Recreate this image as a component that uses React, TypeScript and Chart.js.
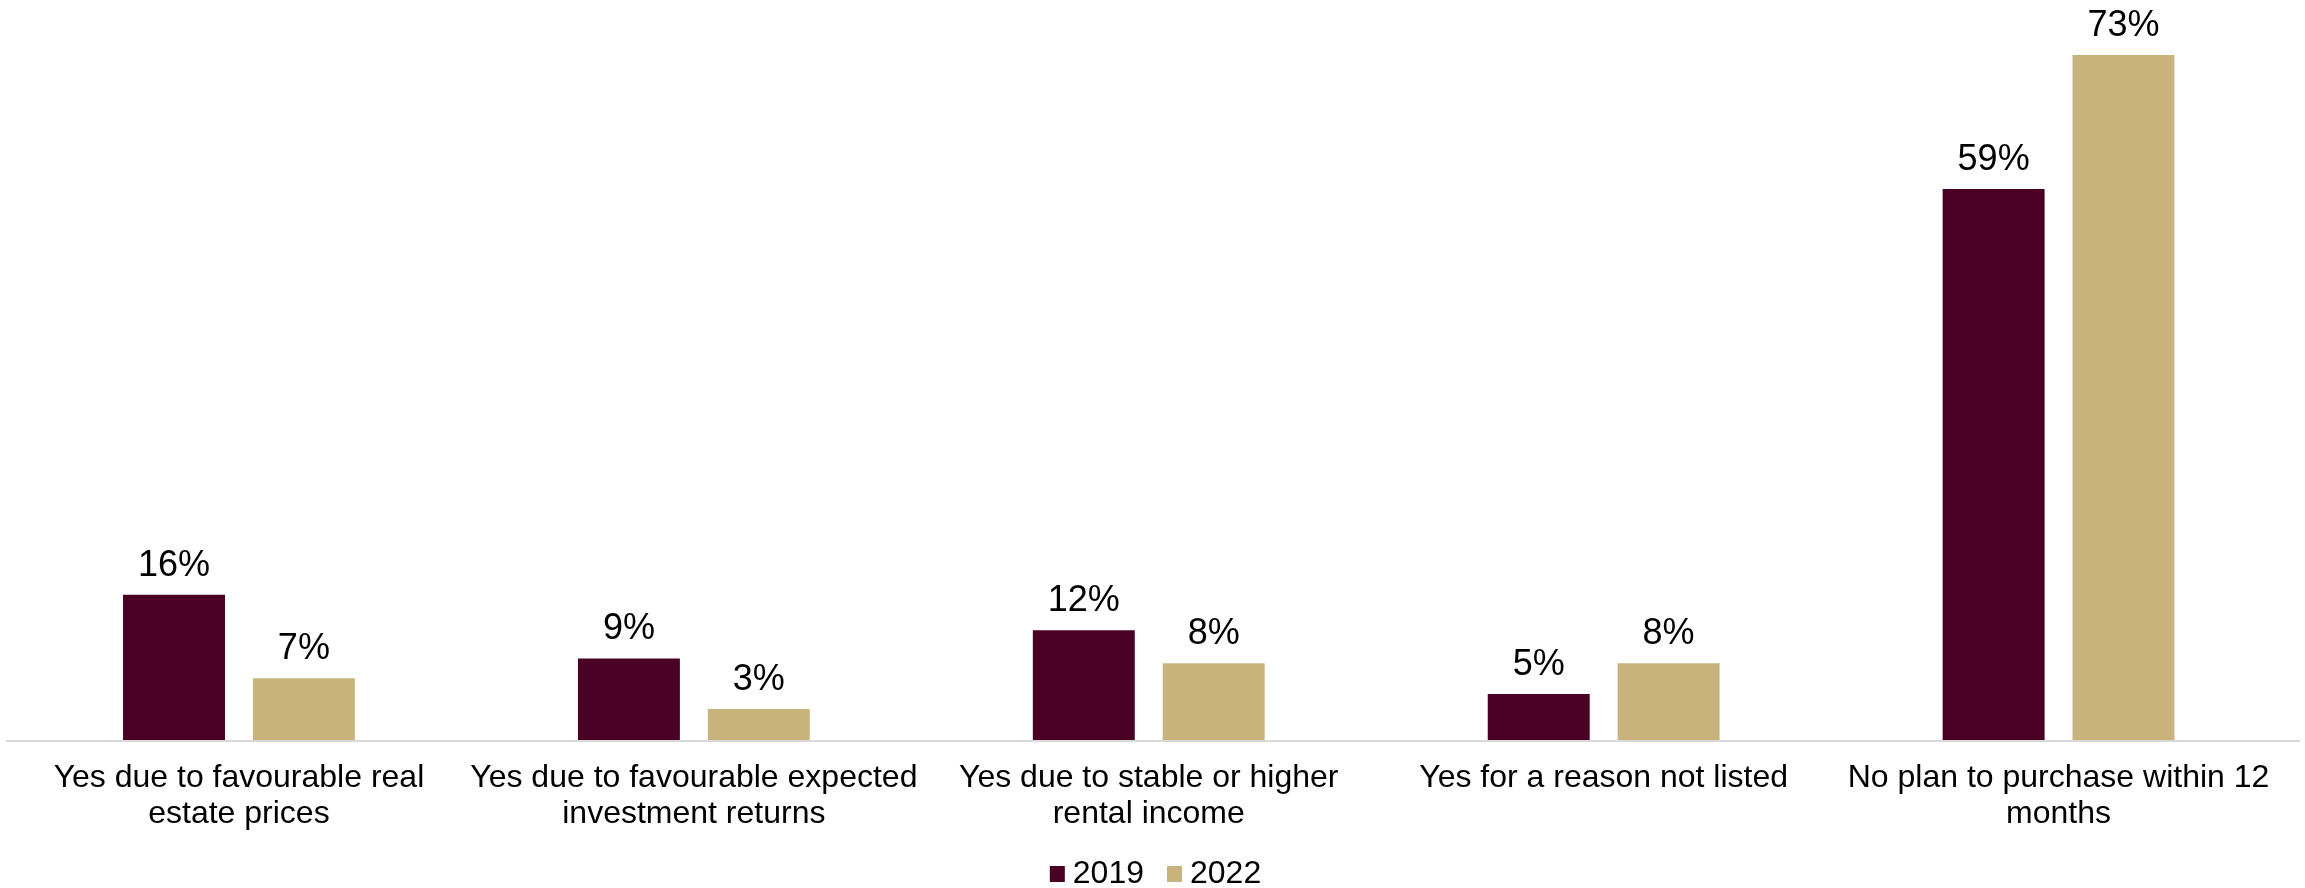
import React, { useEffect, useRef } from "react";
import { Chart, registerables } from "chart.js";

Chart.register(...registerables);

const categories: (string | string[])[] = [
  ["Yes due to favourable real", "estate prices"],
  ["Yes due to favourable expected", "investment returns"],
  ["Yes due to stable or higher", "rental income"],
  "Yes for a reason not listed",
  ["No plan to purchase within 12", "months"],
];
const seriesLabels = ["2019", "2022"];
const values2019 = [15.5, 8.7, 11.7, 4.9, 58.8];
const values2022 = [6.6, 3.3, 8.2, 8.2, 73.1];
const seriesColors = ["#490024", "#c9b37c"];

const FONT = "'Liberation Sans', Arial, sans-serif";

const decorPlugin = {
  id: "decor",
  beforeDatasetsDraw(chart: any) {
    const { ctx, chartArea } = chart;
    ctx.save();
    ctx.strokeStyle = "#d9d9d9";
    ctx.lineWidth = 2;
    ctx.beginPath();
    ctx.moveTo(6, chartArea.bottom + 1);
    ctx.lineTo(chart.width - 5, chartArea.bottom + 1);
    ctx.stroke();
    ctx.restore();
  },
  afterDatasetsDraw(chart: any) {
    const { ctx } = chart;
    ctx.save();
    // data labels
    ctx.fillStyle = "#000";
    ctx.font = `36px ${FONT}`;
    ctx.textAlign = "center";
    ctx.textBaseline = "alphabetic";
    chart.data.datasets.forEach((ds: any, di: number) => {
      const meta = chart.getDatasetMeta(di);
      meta.data.forEach((el: any, i: number) => {
        const v = ds.data[i] as number;
        ctx.fillText(`${Math.round(v)}%`, el.x, el.y - 19);
      });
    });
    // legend
    ctx.font = `32px ${FONT}`;
    ctx.textAlign = "left";
    ctx.textBaseline = "middle";
    const boxW = 15;
    const boxH = 16;
    const gapBoxText = 8;
    const gapItems = 23;
    const items = chart.data.datasets.map((ds: any) => ({
      label: ds.label as string,
      color: ds.backgroundColor as string,
      w: ctx.measureText(ds.label).width,
    }));
    const total =
      items.reduce((s: number, it: any) => s + boxW + gapBoxText + it.w, 0) +
      gapItems * (items.length - 1);
    let x = chart.width / 2 + 3 - total / 2;
    const cy = 874;
    items.forEach((it: any) => {
      ctx.fillStyle = it.color;
      ctx.fillRect(x, cy - boxH / 2, boxW, boxH);
      ctx.fillStyle = "#000";
      ctx.fillText(it.label, x + boxW + gapBoxText, cy);
      x += boxW + gapBoxText + it.w + gapItems;
    });
    ctx.restore();
  },
};

export default function App() {
  const canvasRef = useRef<HTMLCanvasElement | null>(null);

  useEffect(() => {
    document.body.style.margin = "0";
    const canvas = canvasRef.current;
    if (!canvas) return;
    const chart = new Chart(canvas, {
      type: "bar",
      data: {
        labels: categories as any,
        datasets: [
          {
            label: seriesLabels[0],
            data: values2019,
            backgroundColor: seriesColors[0],
            categoryPercentage: 0.571,
            barPercentage: 0.785,
          },
          {
            label: seriesLabels[1],
            data: values2022,
            backgroundColor: seriesColors[1],
            categoryPercentage: 0.571,
            barPercentage: 0.785,
          },
        ],
      },
      options: {
        responsive: false,
        animation: false,
        devicePixelRatio: 1,
        layout: { padding: { top: 9, bottom: 36, left: 11.5, right: 19 } },
        plugins: {
          legend: { display: false },
          tooltip: { enabled: false },
        },
        scales: {
          x: {
            grid: { display: false, drawTicks: false },
            border: { display: false },
            ticks: {
              color: "#000",
              padding: 20,
              maxRotation: 0,
              autoSkip: false,
              font: { family: FONT, size: 32, lineHeight: 1.125 },
            },
          },
          y: {
            display: false,
            min: 0,
            max: 78,
          },
        },
      },
      plugins: [decorPlugin],
    });
    return () => chart.destroy();
  }, []);

  return (
    <div style={{ width: 2305, height: 888 }}>
      <canvas ref={canvasRef} width={2305} height={888} style={{ display: "block" }} />
    </div>
  );
}
